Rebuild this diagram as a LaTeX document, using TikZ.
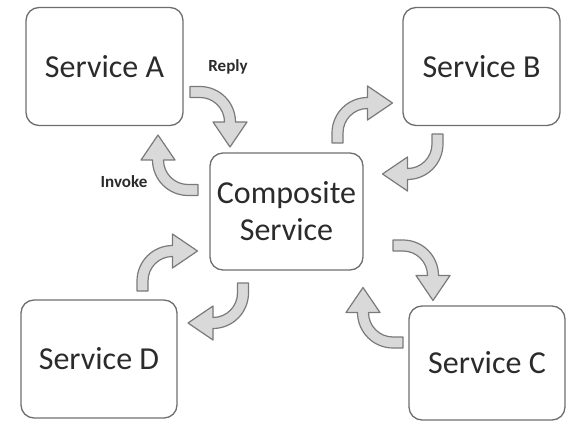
\documentclass[tikz,border=0pt]{standalone}
\usepackage{fontspec}
\setmainfont{Carlito}
\usepackage{tikz}
\usetikzlibrary{positioning}
\definecolor{boxline}{HTML}{6E6E6E}
\definecolor{txt}{HTML}{2B2B2B}
\definecolor{arrowfill}{HTML}{D9D9D9}
\definecolor{arrowline}{HTML}{7A7A7A}
\tikzstyle{service} = [rectangle, rounded corners=13pt, 
minimum width=157pt, 
minimum height=118pt, 
text centered, align=center, 
draw=boxline, line width=1.3pt, 
text=txt, 
font=\fontsize{32}{37}\selectfont]
\tikzstyle{msg} = [font=\bfseries\fontsize{17}{20}\selectfont, text=txt]
\tikzstyle{bendbody} = [fill=arrowfill, draw=arrowline, line width=1.2pt, line join=round]
\tikzset{bendarrow/.pic={
  \draw[bendbody] (0,5.5) -- (10,5.5) arc[start angle=90, end angle=0, radius=35.5]
    -- (57,-30) -- (40,-55) -- (23,-30) -- (34.5,-30)
    arc[start angle=0, end angle=90, radius=24.5] -- (0,-5.5) -- cycle;
}}

\begin{document}
\begin{tikzpicture}[x=1pt, y=1pt]
\useasboundingbox (0,0) rectangle (567,421);

\node (comp) [service, minimum width=153pt, minimum height=117pt] at (286.5,209.5) {Composite\\Service};
\node (srva) [service] at (104.5,354.5) {Service A};
\node (srvb) [service] at (481.5,354.5) {Service B};
\node (srvc) [service, minimum width=156pt, minimum height=114pt] at (487,58) {Service C};
\node (srvd) [service, minimum width=156pt] at (99,62) {Service D};

% curved block arrows
\pic at (190,329) {bendarrow};
\pic[rotate=180] at (198,231) {bendarrow};
\pic[rotate=90] at (337.5,278) {bendarrow};
\pic[rotate=-90] at (437.5,287) {bendarrow};
\pic at (393,175.5) {bendarrow};
\pic[rotate=180] at (403,78.5) {bendarrow};
\pic[rotate=90] at (142.5,130) {bendarrow};
\pic[rotate=-90] at (243,138) {bendarrow};

\node (reply) [msg] at (228,354) {Reply};
\node (invoke) [msg] at (124,239) {Invoke};

\end{tikzpicture}
\end{document}
